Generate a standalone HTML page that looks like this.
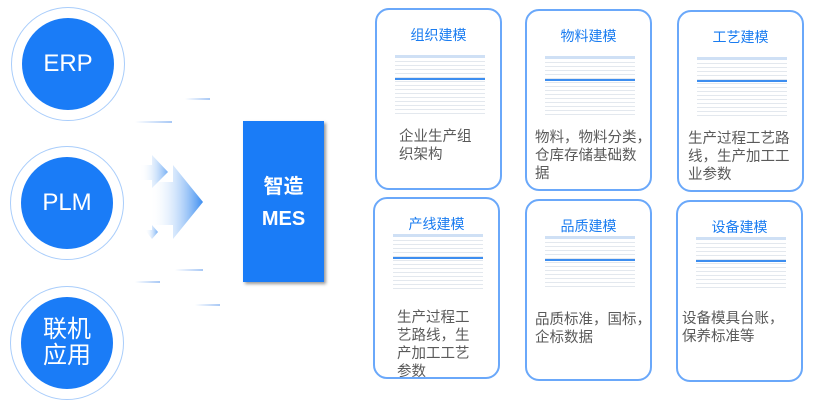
<!DOCTYPE html>
<html><head><meta charset="utf-8"><style>
body{margin:0;width:822px;height:407px;background:#fff;position:relative;overflow:hidden;font-family:"Liberation Sans","Noto Sans CJK SC",sans-serif}
.ring{position:absolute;width:114px;height:114px;border:1px solid #a9cdfb;border-radius:50%;box-sizing:border-box}
.c{position:absolute;width:92px;height:92px;border-radius:50%;background:#1a7cf7;color:#fff;display:flex;align-items:center;justify-content:center;text-align:center;font-size:24px;line-height:26px}
.card{position:absolute;width:127px;height:182px;border:2px solid #6aa8fa;border-radius:14px;box-sizing:border-box}
.t{position:absolute;top:15px;left:0;right:0;text-align:center;color:#1a7cf0;font-size:14px}
.shot{position:absolute;top:45px;left:18px;width:90px;height:58px;background:repeating-linear-gradient(#fff 0 3px,#e3e8ee 3px 4px);border-top:3px solid #cfe0f5}
.shot:before{content:"";position:absolute;left:0;right:0;top:20px;height:2px;background:#3d8ef0}
.d{position:absolute;top:118px;left:22px;color:#5a5a5a;font-size:14.5px;line-height:18px;white-space:nowrap}
.ln{position:absolute;height:2px;background:linear-gradient(90deg,rgba(120,170,240,0),#a8c8f5)}
</style></head><body>
<div class="ring" style="left:11px;top:7px"></div><div class="c" style="left:22px;top:18px">ERP</div>
<div class="ring" style="left:10px;top:146px"></div><div class="c" style="left:21px;top:157px">PLM</div>
<div class="ring" style="left:10px;top:286px"></div><div class="c" style="left:21px;top:297px">联机<br>应用</div>
<div class="ln" style="left:185px;top:98px;width:25px"></div>
<div class="ln" style="left:135px;top:121px;width:37px"></div>
<div class="ln" style="left:175px;top:269px;width:28px"></div>
<div class="ln" style="left:135px;top:281px;width:25px"></div>
<div class="ln" style="left:195px;top:304px;width:25px"></div>
<svg style="position:absolute;left:140px;top:150px" width="70" height="95">
<defs><linearGradient id="g" x1="0" x2="1"><stop offset="0" stop-color="#fff" stop-opacity="0"/><stop offset="1" stop-color="#3d8ef0"/></linearGradient></defs>
<polygon points="0,15 12,15 12,5 28,22 12,38 12,30 0,30" fill="url(#g)" opacity=".7"/>
<polygon points="10,32 33,32 33,15 63,52 33,89 33,75 10,75" fill="url(#g)"/>
<polygon points="5,80 12,80 12,75 18,82 12,89" fill="url(#g)" opacity=".7"/>
</svg>
<div style="position:absolute;left:243px;top:121px;width:81px;height:161px;background:#1a7cf7;box-shadow:2px 2px 3px #999;color:#fff;font-weight:bold;font-size:20px;text-align:center;line-height:32px;padding-top:50px;box-sizing:border-box">智造<br>MES</div>
<div class="card" style="left:375px;top:8px"><div class="t">组织建模</div><div class="shot"></div><div class="d">企业生产组<br>织架构</div></div>
<div class="card" style="left:525px;top:9px"><div class="t">物料建模</div><div class="shot"></div><div class="d" style="left:8px">物料，物料分类，<br>仓库存储基础数<br>据</div></div>
<div class="card" style="left:677px;top:10px"><div class="t">工艺建模</div><div class="shot"></div><div class="d" style="left:9px">生产过程工艺路<br>线，生产加工工<br>业参数</div></div>
<div class="card" style="left:373px;top:197px"><div class="t">产线建模</div><div class="shot" style="top:35px;height:52px"></div><div class="d" style="top:110px">生产过程工<br>艺路线，生<br>产加工工艺<br>参数</div></div>
<div class="card" style="left:525px;top:199px"><div class="t">品质建模</div><div class="shot" style="top:35px;height:48px"></div><div class="d" style="left:8px;top:110px">品质标准，国标，<br>企标数据</div></div>
<div class="card" style="left:676px;top:200px"><div class="t">设备建模</div><div class="shot" style="top:35px;height:48px"></div><div class="d" style="left:4px;top:108px">设备模具台账，<br>保养标准等</div></div>
</body></html>
